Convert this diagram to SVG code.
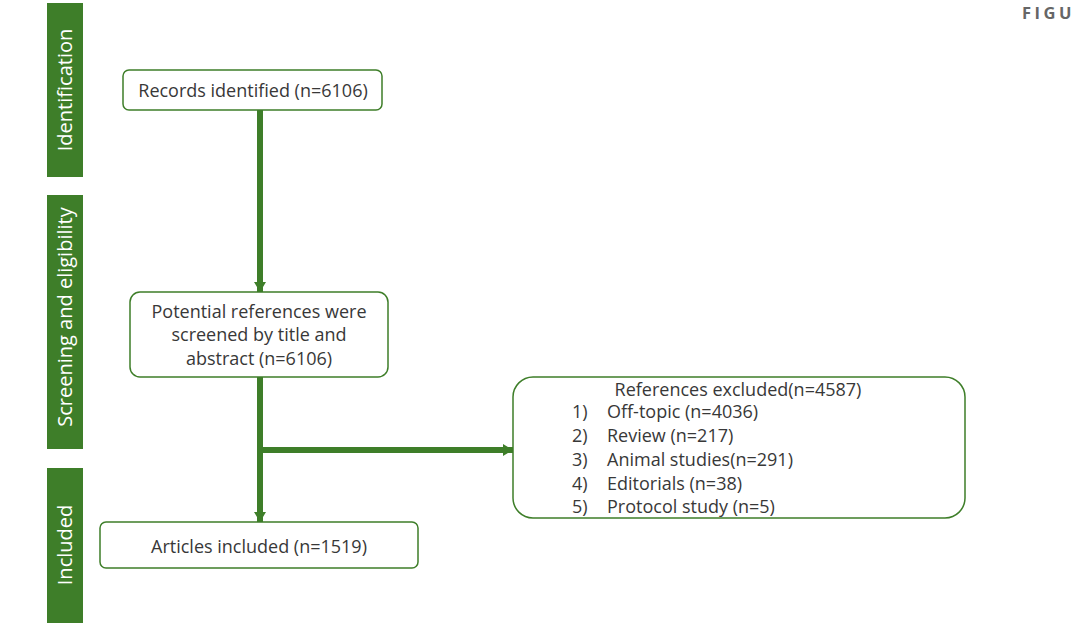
<svg xmlns="http://www.w3.org/2000/svg" width="1080" height="638" viewBox="0 0 1080 638">
<style>
.bar{fill:#3e7e29}
.bar-t{fill:#fff;font-family:"Open Sans","Liberation Sans",sans-serif;font-size:20px;text-anchor:middle}
.box{fill:#fff;stroke:#3e7e29;stroke-width:1.5}
.t{fill:#383838;font-family:"Open Sans","Liberation Sans",sans-serif;font-size:18px}
.c{text-anchor:middle}
.conn{stroke:#3e7e29;stroke-width:6;fill:none}
</style>
<defs>
<marker id="ah" markerUnits="userSpaceOnUse" markerWidth="14" markerHeight="14" refX="10" refY="7" orient="auto">
<path d="M0,1 L10,7 L0,13 Z" fill="#3e7e29"/>
</marker>
</defs>
<rect width="1080" height="638" fill="#fff"/>
<text x="1022" y="19" fill="#666" font-family="Open Sans, Liberation Sans, sans-serif" font-size="16.5" font-weight="bold" letter-spacing="3.5">FIGU</text>
<g id="stage-identification">
<rect class="bar" x="47" y="3" width="36" height="174"/>
<text class="bar-t" transform="translate(72,90) rotate(-90)">Identification</text>
</g>
<g id="stage-screening">
<rect class="bar" x="47" y="195" width="36" height="254"/>
<text class="bar-t" transform="translate(72,317) rotate(-90)">Screening and eligibility</text>
</g>
<g id="stage-included">
<rect class="bar" x="47" y="468" width="36" height="155"/>
<text class="bar-t" transform="translate(72,545) rotate(-90)">Included</text>
</g>
<g id="connectors">
<line class="conn" x1="260" y1="110" x2="260" y2="292" marker-end="url(#ah)"/>
<line class="conn" x1="260" y1="377" x2="260" y2="522" marker-end="url(#ah)"/>
<line class="conn" x1="260" y1="450" x2="513" y2="450" marker-end="url(#ah)"/>
</g>
<g id="records">
<rect class="box" x="123" y="70" width="259" height="40" rx="6"/>
<text class="t c" x="253" y="97">Records identified (n=6106)</text>
</g>
<g id="screened">
<rect class="box" x="130" y="292" width="258" height="85" rx="10"/>
<text class="t c" x="259" y="318">Potential references were</text>
<text class="t c" x="259" y="341">screened by title and</text>
<text class="t c" x="259" y="365">abstract (n=6106)</text>
</g>
<g id="included">
<rect class="box" x="100" y="522" width="318" height="46" rx="6"/>
<text class="t c" x="259" y="553">Articles included (n=1519)</text>
</g>
<g id="excluded">
<rect class="box" x="513" y="377" width="452" height="141" rx="20"/>
<text class="t c" x="738" y="396">References excluded(n=4587)</text>
<text class="t" x="572" y="418">1)</text><text class="t" x="607" y="418">Off-topic (n=4036)</text>
<text class="t" x="572" y="442">2)</text><text class="t" x="607" y="442">Review (n=217)</text>
<text class="t" x="572" y="466">3)</text><text class="t" x="607" y="466">Animal studies(n=291)</text>
<text class="t" x="572" y="490">4)</text><text class="t" x="607" y="490">Editorials (n=38)</text>
<text class="t" x="572" y="513">5)</text><text class="t" x="607" y="513">Protocol study (n=5)</text>
</g>
</svg>
